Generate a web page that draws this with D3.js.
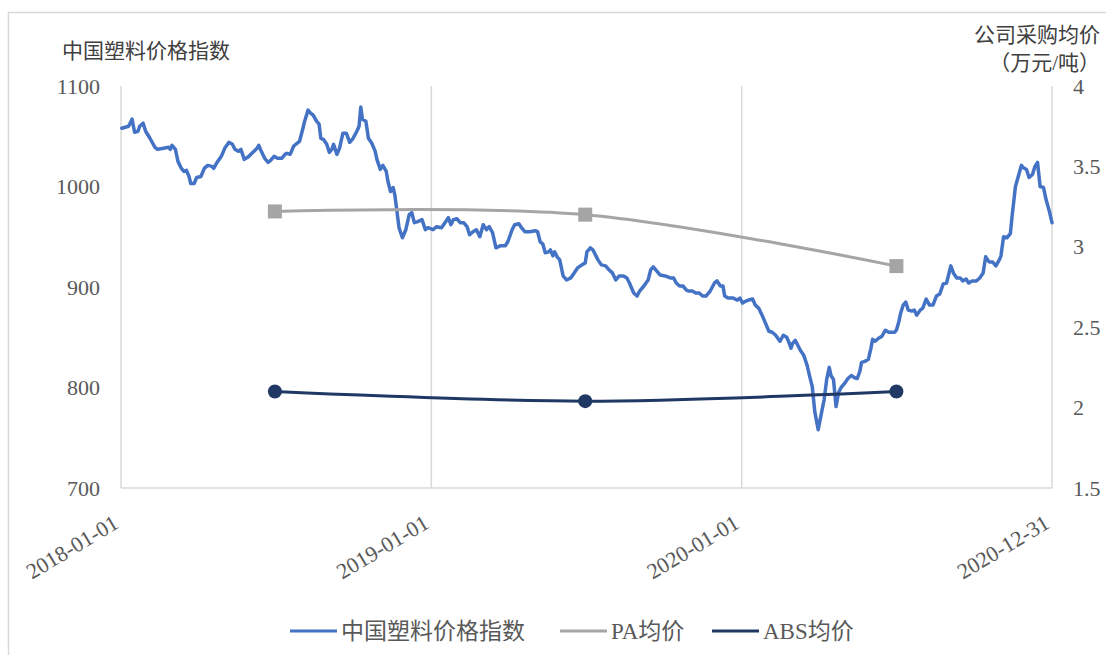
<!DOCTYPE html>
<html>
<head>
<meta charset="utf-8">
<script src="https://cdn.jsdelivr.net/npm/d3@7"></script>
<style>
  body { margin: 0; background: #fff; }
  svg { display: block; }
</style>
</head>
<body>
<svg id="chart" width="1106" height="655"></svg>
<script>
// 中国塑料价格指数 (daily index readings, left axis)
const plasticIndex = [
  ["2018-01-02",1058],["2018-01-06",1059],["2018-01-10",1060],["2018-01-14",1067],["2018-01-17",1054],
  ["2018-01-21",1055],["2018-01-23",1060],["2018-01-27",1063],["2018-01-30",1055],["2018-02-04",1048],
  ["2018-02-10",1039],["2018-02-13",1037],["2018-02-20",1038],["2018-02-26",1039],["2018-02-28",1037],
  ["2018-03-02",1041],["2018-03-06",1037],["2018-03-09",1025],["2018-03-13",1018],["2018-03-16",1015],
  ["2018-03-19",1016],["2018-03-22",1010],["2018-03-24",1003],["2018-03-28",1003],["2018-03-31",1009],
  ["2018-04-05",1010],["2018-04-09",1018],["2018-04-13",1021],["2018-04-18",1020],["2018-04-20",1018],
  ["2018-04-24",1024],["2018-04-29",1030],["2018-05-03",1038],["2018-05-08",1044],["2018-05-12",1042],
  ["2018-05-15",1037],["2018-05-19",1035],["2018-05-22",1037],["2018-05-26",1027],["2018-05-30",1029],
  ["2018-06-04",1033],["2018-06-10",1038],["2018-06-12",1041],["2018-06-15",1035],["2018-06-19",1028],
  ["2018-06-23",1024],["2018-06-26",1026],["2018-06-30",1030],["2018-07-04",1028],["2018-07-09",1028],
  ["2018-07-13",1032],["2018-07-15",1033],["2018-07-19",1032],["2018-07-23",1040],["2018-07-27",1043],
  ["2018-07-30",1045],["2018-08-03",1058],["2018-08-05",1065],["2018-08-09",1076],["2018-08-12",1073],
  ["2018-08-15",1071],["2018-08-19",1065],["2018-08-22",1062],["2018-08-24",1048],["2018-08-27",1047],
  ["2018-08-31",1042],["2018-09-03",1034],["2018-09-06",1037],["2018-09-08",1042],["2018-09-12",1032],
  ["2018-09-15",1038],["2018-09-19",1053],["2018-09-23",1053],["2018-09-27",1044],["2018-10-01",1048],
  ["2018-10-06",1056],["2018-10-08",1060],["2018-10-10",1079],["2018-10-12",1067],["2018-10-16",1065],
  ["2018-10-19",1048],["2018-10-23",1043],["2018-10-27",1035],["2018-10-29",1027],["2018-11-02",1017],
  ["2018-11-05",1021],["2018-11-09",1015],["2018-11-11",1005],["2018-11-14",995],["2018-11-17",999],
  ["2018-11-19",992],["2018-11-21",979],["2018-11-24",959],["2018-11-28",949],["2018-12-02",957],
  ["2018-12-06",972],["2018-12-09",974],["2018-12-12",964],["2018-12-16",965],["2018-12-21",967],
  ["2018-12-25",957],["2018-12-28",959],["2019-01-03",957],["2019-01-07",960],["2019-01-13",959],
  ["2019-01-17",964],["2019-01-21",969],["2019-01-24",962],["2019-01-27",967],["2019-01-31",968],
  ["2019-02-04",964],["2019-02-08",964],["2019-02-12",960],["2019-02-15",952],["2019-02-19",955],
  ["2019-02-23",957],["2019-02-27",950],["2019-03-03",962],["2019-03-07",957],["2019-03-10",960],
  ["2019-03-14",954],["2019-03-18",939],["2019-03-23",941],["2019-03-29",941],["2019-04-01",945],
  ["2019-04-06",957],["2019-04-09",962],["2019-04-14",963],["2019-04-17",959],["2019-04-21",955],
  ["2019-04-27",955],["2019-05-03",956],["2019-05-06",955],["2019-05-09",945],["2019-05-12",943],
  ["2019-05-15",934],["2019-05-19",935],["2019-05-21",937],["2019-05-24",931],["2019-05-26",935],
  ["2019-05-29",930],["2019-06-01",927],["2019-06-05",911],["2019-06-09",907],["2019-06-14",909],
  ["2019-06-18",914],["2019-06-22",919],["2019-06-27",922],["2019-07-01",924],["2019-07-03",935],
  ["2019-07-07",939],["2019-07-10",937],["2019-07-13",932],["2019-07-16",927],["2019-07-20",922],
  ["2019-07-25",921],["2019-07-29",917],["2019-08-02",914],["2019-08-06",907],["2019-08-10",911],
  ["2019-08-15",911],["2019-08-19",909],["2019-08-22",904],["2019-08-27",894],["2019-08-31",891],
  ["2019-09-03",896],["2019-09-08",901],["2019-09-13",907],["2019-09-16",917],["2019-09-19",920],
  ["2019-09-23",916],["2019-09-27",912],["2019-10-03",911],["2019-10-09",909],["2019-10-13",909],
  ["2019-10-16",904],["2019-10-20",901],["2019-10-24",901],["2019-10-28",897],["2019-10-31",896],
  ["2019-11-04",896],["2019-11-08",894],["2019-11-12",894],["2019-11-16",891],["2019-11-20",891],
  ["2019-11-25",896],["2019-11-30",904],["2019-12-03",906],["2019-12-07",901],["2019-12-10",901],
  ["2019-12-12",891],["2019-12-16",889],["2019-12-22",889],["2019-12-27",887],["2019-12-30",889],
  ["2020-01-02",884],["2020-01-06",886],["2020-01-09",887],["2020-01-14",888],["2020-01-17",882],
  ["2020-01-21",879],["2020-01-25",872],["2020-01-28",866],["2020-02-02",856],["2020-02-06",855],
  ["2020-02-10",852],["2020-02-15",846],["2020-02-19",852],["2020-02-23",850],["2020-02-26",844],
  ["2020-02-28",839],["2020-03-01",844],["2020-03-04",847],["2020-03-07",842],["2020-03-10",837],
  ["2020-03-14",832],["2020-03-18",822],["2020-03-21",811],["2020-03-24",801],["2020-03-27",776],
  ["2020-03-31",758],["2020-04-03",771],["2020-04-07",788],["2020-04-10",808],["2020-04-13",820],
  ["2020-04-15",812],["2020-04-18",808],["2020-04-21",781],["2020-04-24",795],["2020-04-27",800],
  ["2020-05-01",804],["2020-05-05",809],["2020-05-09",812],["2020-05-12",810],["2020-05-16",809],
  ["2020-05-19",816],["2020-05-21",825],["2020-05-25",826],["2020-05-29",828],["2020-06-01",839],
  ["2020-06-03",848],["2020-06-06",846],["2020-06-10",849],["2020-06-14",851],["2020-06-18",857],
  ["2020-06-22",855],["2020-06-29",855],["2020-07-01",857],["2020-07-04",866],["2020-07-06",874],
  ["2020-07-09",882],["2020-07-12",885],["2020-07-15",877],["2020-07-19",876],["2020-07-22",877],
  ["2020-07-25",872],["2020-07-29",877],["2020-08-01",879],["2020-08-05",888],["2020-08-09",882],
  ["2020-08-13",882],["2020-08-17",891],["2020-08-21",893],["2020-08-25",903],["2020-08-29",904],
  ["2020-09-03",921],["2020-09-06",914],["2020-09-10",909],["2020-09-14",909],["2020-09-17",906],
  ["2020-09-21",908],["2020-09-24",904],["2020-09-28",906],["2020-10-03",906],["2020-10-07",909],
  ["2020-10-11",914],["2020-10-14",930],["2020-10-18",925],["2020-10-22",925],["2020-10-26",921],
  ["2020-10-30",927],["2020-11-01",931],["2020-11-04",950],["2020-11-08",949],["2020-11-12",953],
  ["2020-11-14",970],["2020-11-18",1000],["2020-11-21",1009],["2020-11-25",1021],["2020-11-27",1019],
  ["2020-12-01",1017],["2020-12-04",1009],["2020-12-08",1012],["2020-12-11",1020],["2020-12-14",1024],
  ["2020-12-17",1000],["2020-12-21",999],["2020-12-24",987],["2020-12-28",975],["2020-12-31",964]
];

// 公司采购均价 (万元/吨, right axis), one reading per year
const purchaseDates = ["2018-07-01", "2019-07-01", "2020-07-01"];
const paPrices = [3.22, 3.20, 2.88];
const absPrices = [2.10, 2.04, 2.10];

const leftTicks = [700, 800, 900, 1000, 1100];
const rightTicks = [1.5, 2, 2.5, 3, 3.5, 4];
const xTickLabels = ["2018-01-01", "2019-01-01", "2020-01-01", "2020-12-31"];

const seriesNames = ["中国塑料价格指数", "PA均价", "ABS均价"];
const seriesColors = ["#4472C4", "#A5A5A5", "#203864"];

const parse = d3.timeParse("%Y-%m-%d");
const svg = d3.select("#chart");

const plot = { left: 121, right: 1052, top: 86, bottom: 488 };
const numFont = "'Liberation Serif', 'Times New Roman', serif";
const cjkFont = "'Liberation Serif', 'Noto Sans CJK SC', sans-serif";
const textColor = "#595959";
const titleColor = "#404040";
const gridColor = "#D9D9D9";

const x = d3.scaleTime()
  .domain([parse(xTickLabels[0]), parse(xTickLabels[xTickLabels.length - 1])])
  .range([plot.left, plot.right]);
const yLeft = d3.scaleLinear().domain([700, 1100]).range([plot.bottom, plot.top]);
const yRight = d3.scaleLinear().domain([1.5, 4]).range([plot.bottom, plot.top]);

// chart frame
svg.append("rect")
  .attr("x", 8.5).attr("y", 12.5).attr("width", 1120).attr("height", 700)
  .attr("fill", "none").attr("stroke", gridColor).attr("stroke-width", 1.5);

// vertical grid lines at each labelled date (outer ones serve as axis lines)
svg.append("g").selectAll("line")
  .data(xTickLabels)
  .join("line")
  .attr("x1", d => x(parse(d))).attr("x2", d => x(parse(d)))
  .attr("y1", plot.top).attr("y2", plot.bottom)
  .attr("stroke", gridColor).attr("stroke-width", 1.5);

// category axis baseline
svg.append("line")
  .attr("x1", plot.left).attr("x2", plot.right)
  .attr("y1", plot.bottom).attr("y2", plot.bottom)
  .attr("stroke", gridColor).attr("stroke-width", 1.5);

// left value axis
const gLeft = svg.append("g")
  .attr("transform", `translate(${plot.left},0)`)
  .call(d3.axisLeft(yLeft).tickValues(leftTicks).tickSize(0).tickPadding(21).tickFormat(d3.format("d")));
gLeft.select(".domain").remove();
gLeft.selectAll("text")
  .attr("font-family", numFont).attr("font-size", 22).attr("fill", textColor);

// right value axis
const gRight = svg.append("g")
  .attr("transform", `translate(${plot.right},0)`)
  .call(d3.axisRight(yRight).tickValues(rightTicks).tickSize(0).tickPadding(21).tickFormat(d3.format("~g")));
gRight.select(".domain").remove();
gRight.selectAll("text")
  .attr("font-family", numFont).attr("font-size", 22).attr("fill", textColor);

// slanted date labels
svg.append("g").selectAll("text")
  .data(xTickLabels)
  .join("text")
  .attr("transform", d => `translate(${x(parse(d)) - 1},527) rotate(-31)`)
  .attr("text-anchor", "end")
  .attr("font-family", numFont).attr("font-size", 22).attr("fill", textColor)
  .text(d => d);

// axis titles
svg.append("text")
  .attr("x", 62).attr("y", 58)
  .attr("font-family", cjkFont).attr("font-size", 21).attr("fill", titleColor)
  .text("中国塑料价格指数");
svg.append("text")
  .attr("x", 1100).attr("y", 42).attr("text-anchor", "end")
  .attr("font-family", cjkFont).attr("font-size", 21).attr("fill", titleColor)
  .text("公司采购均价");
svg.append("text")
  .attr("x", 1100).attr("y", 70).attr("text-anchor", "end")
  .attr("font-family", cjkFont).attr("font-size", 21).attr("fill", titleColor)
  .text("（万元/吨）");

// index line
const indexLine = d3.line()
  .x(d => x(parse(d[0])))
  .y(d => yLeft(d[1]))
  .curve(d3.curveLinear);
svg.append("path")
  .datum(plasticIndex)
  .attr("d", indexLine)
  .attr("fill", "none")
  .attr("stroke", seriesColors[0])
  .attr("stroke-width", 3.5)
  .attr("stroke-linejoin", "round")
  .attr("stroke-linecap", "round");

// smoothed purchase price lines
const priceLine = d3.line()
  .x(d => x(parse(d.date)))
  .y(d => yRight(d.value))
  .curve(d3.curveCatmullRom.alpha(0.5));

const paData = purchaseDates.map((date, i) => ({ date, value: paPrices[i] }));
const absData = purchaseDates.map((date, i) => ({ date, value: absPrices[i] }));

svg.append("path")
  .datum(paData)
  .attr("d", priceLine)
  .attr("fill", "none").attr("stroke", seriesColors[1]).attr("stroke-width", 3);
svg.append("g").selectAll("rect")
  .data(paData)
  .join("rect")
  .attr("x", d => x(parse(d.date)) - 7)
  .attr("y", d => yRight(d.value) - 7)
  .attr("width", 14).attr("height", 14)
  .attr("fill", seriesColors[1]);

svg.append("path")
  .datum(absData)
  .attr("d", priceLine)
  .attr("fill", "none").attr("stroke", seriesColors[2]).attr("stroke-width", 3);
svg.append("g").selectAll("circle")
  .data(absData)
  .join("circle")
  .attr("cx", d => x(parse(d.date)))
  .attr("cy", d => yRight(d.value))
  .attr("r", 7)
  .attr("fill", seriesColors[2]);

// legend
const legendX = [290, 560, 712];
const legend = svg.append("g").selectAll("g")
  .data(seriesNames)
  .join("g")
  .attr("transform", (d, i) => `translate(${legendX[i]},631)`);
legend.append("line")
  .attr("x1", 0).attr("x2", 47).attr("y1", 0).attr("y2", 0)
  .attr("stroke", (d, i) => seriesColors[i]).attr("stroke-width", 3);
legend.append("text")
  .attr("x", 51).attr("y", 8)
  .attr("font-family", cjkFont).attr("font-size", 23).attr("fill", textColor)
  .text(d => d);
</script>
</body>
</html>
